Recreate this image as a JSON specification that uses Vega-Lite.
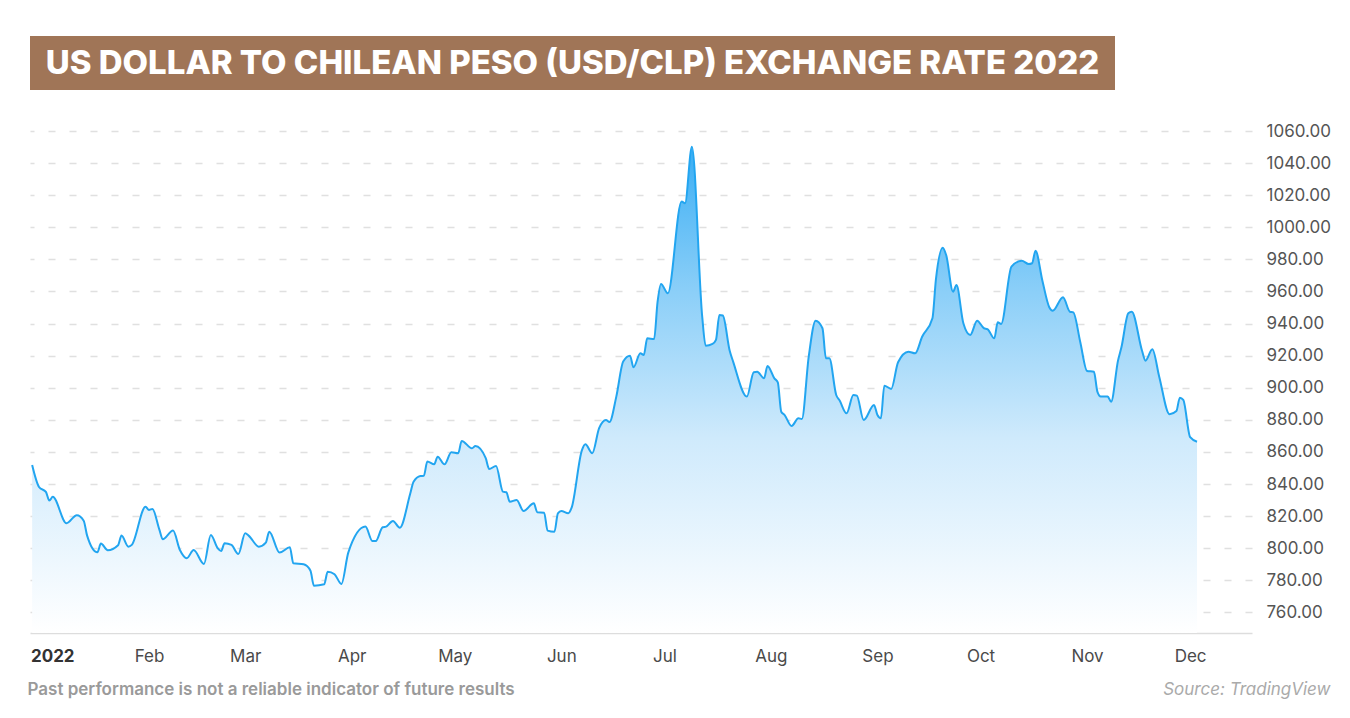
{
"$schema": "https://vega.github.io/schema/vega-lite/v6.json",
"background": "white",
"padding": {"left": 27, "top": 36, "right": 10, "bottom": 5},
"spacing": 32,
"config": {"font": "Inter", "view": {"stroke": null}},
"vconcat": [
{
"width": 1085, "height": 54,
"view": {"fill": "#a07557", "stroke": null},
"data": {"values": [{"title": "US DOLLAR TO CHILEAN PESO (USD/CLP) EXCHANGE RATE 2022"}]},
"mark": {"type": "text", "color": "white", "font": "Inter", "fontWeight": 800, "fontSize": 33, "align": "center", "baseline": "middle", "dy": 1},
"encoding": {"text": {"field": "title"}}
},
{
"width": 1222, "height": 502,
"data": {"values": [
{"date":"2021-12-29","rate":851.9},{"date":"2021-12-31","rate":838.2},{"date":"2022-01-02","rate":835.1},{"date":"2022-01-03","rate":829.7},{"date":"2022-01-04","rate":832.1},{"date":"2022-01-08","rate":815.6},{"date":"2022-01-11","rate":820.6},{"date":"2022-01-13","rate":817.2},{"date":"2022-01-14","rate":807.9},{"date":"2022-01-17","rate":797.5},{"date":"2022-01-18","rate":802.9},{"date":"2022-01-20","rate":798.8},{"date":"2022-01-23","rate":801.9},{"date":"2022-01-24","rate":807.9},{"date":"2022-01-26","rate":801.0},{"date":"2022-01-27","rate":802.1},{"date":"2022-01-31","rate":825.9},
{"date":"2022-02-01","rate":823.9},{"date":"2022-02-02","rate":824.5},{"date":"2022-02-04","rate":811.8},{"date":"2022-02-05","rate":805.6},{"date":"2022-02-08","rate":811.0},{"date":"2022-02-10","rate":798.9},{"date":"2022-02-12","rate":793.8},{"date":"2022-02-14","rate":798.9},{"date":"2022-02-17","rate":790.2},{"date":"2022-02-19","rate":808.3},{"date":"2022-02-21","rate":800.0},{"date":"2022-02-22","rate":798.3},{"date":"2022-02-23","rate":803.1},{"date":"2022-02-25","rate":802.1},{"date":"2022-02-27","rate":796.4},
{"date":"2022-03-01","rate":809.3},{"date":"2022-03-02","rate":807.9},{"date":"2022-03-05","rate":801.0},{"date":"2022-03-07","rate":803.5},{"date":"2022-03-08","rate":810.3},{"date":"2022-03-11","rate":797.3},{"date":"2022-03-14","rate":800.6},{"date":"2022-03-15","rate":790.7},{"date":"2022-03-18","rate":790.0},{"date":"2022-03-20","rate":786.0},{"date":"2022-03-21","rate":776.7},{"date":"2022-03-24","rate":777.6},{"date":"2022-03-25","rate":785.4},{"date":"2022-03-27","rate":783.8},{"date":"2022-03-29","rate":777.8},{"date":"2022-03-31","rate":797.3},
{"date":"2022-04-05","rate":813.5},{"date":"2022-04-07","rate":804.5},{"date":"2022-04-08","rate":804.5},{"date":"2022-04-10","rate":813.1},{"date":"2022-04-11","rate":813.5},{"date":"2022-04-13","rate":817.0},{"date":"2022-04-15","rate":812.8},{"date":"2022-04-18","rate":833.8},{"date":"2022-04-19","rate":841.5},{"date":"2022-04-21","rate":845.0},{"date":"2022-04-22","rate":845.2},{"date":"2022-04-23","rate":854.0},{"date":"2022-04-25","rate":852.3},{"date":"2022-04-26","rate":857.1},{"date":"2022-04-28","rate":852.3},{"date":"2022-04-30","rate":859.8},
{"date":"2022-05-02","rate":859.2},{"date":"2022-05-03","rate":866.9},{"date":"2022-05-06","rate":862.3},{"date":"2022-05-07","rate":863.7},{"date":"2022-05-10","rate":856.1},{"date":"2022-05-11","rate":849.4},{"date":"2022-05-13","rate":851.3},{"date":"2022-05-15","rate":835.3},{"date":"2022-05-16","rate":834.9},{"date":"2022-05-17","rate":829.0},{"date":"2022-05-19","rate":830.1},{"date":"2022-05-21","rate":823.2},{"date":"2022-05-24","rate":828.0},{"date":"2022-05-25","rate":822.4},{"date":"2022-05-27","rate":822.2},{"date":"2022-05-28","rate":811.0},{"date":"2022-05-30","rate":810.3},{"date":"2022-05-31","rate":821.8},
{"date":"2022-06-01","rate":823.2},{"date":"2022-06-03","rate":821.8},{"date":"2022-06-04","rate":825.3},{"date":"2022-06-07","rate":861.2},{"date":"2022-06-08","rate":864.8},{"date":"2022-06-10","rate":859.2},{"date":"2022-06-12","rate":874.8},{"date":"2022-06-14","rate":879.9},{"date":"2022-06-15","rate":878.7},{"date":"2022-06-17","rate":894.5},{"date":"2022-06-19","rate":916.3},{"date":"2022-06-21","rate":920.0},{"date":"2022-06-22","rate":912.8},{"date":"2022-06-24","rate":921.5},{"date":"2022-06-25","rate":920.4},{"date":"2022-06-26","rate":930.8},{"date":"2022-06-28","rate":930.4},{"date":"2022-06-29","rate":953.3},{"date":"2022-06-30","rate":964.7},
{"date":"2022-07-02","rate":958.9},{"date":"2022-07-06","rate":1016.0},{"date":"2022-07-07","rate":1015.0},{"date":"2022-07-09","rate":1050.2},{"date":"2022-07-12","rate":944.3},{"date":"2022-07-13","rate":926.2},{"date":"2022-07-15","rate":927.3},{"date":"2022-07-16","rate":929.8},{"date":"2022-07-17","rate":945.4},{"date":"2022-07-18","rate":945.0},{"date":"2022-07-20","rate":923.1},{"date":"2022-07-21","rate":916.3},{"date":"2022-07-25","rate":894.5},{"date":"2022-07-27","rate":909.7},{"date":"2022-07-28","rate":910.0},{"date":"2022-07-30","rate":905.9},{"date":"2022-07-31","rate":913.6},
{"date":"2022-08-02","rate":905.9},{"date":"2022-08-03","rate":903.4},{"date":"2022-08-04","rate":885.1},{"date":"2022-08-05","rate":883.0},{"date":"2022-08-07","rate":876.2},{"date":"2022-08-09","rate":881.0},{"date":"2022-08-10","rate":880.6},{"date":"2022-08-12","rate":919.4},{"date":"2022-08-14","rate":941.8},{"date":"2022-08-16","rate":937.1},{"date":"2022-08-17","rate":918.4},{"date":"2022-08-18","rate":918.4},{"date":"2022-08-20","rate":895.5},{"date":"2022-08-21","rate":892.0},{"date":"2022-08-23","rate":884.1},{"date":"2022-08-25","rate":895.5},{"date":"2022-08-26","rate":895.1},{"date":"2022-08-28","rate":879.9},{"date":"2022-08-31","rate":889.3},
{"date":"2022-09-01","rate":883.0},{"date":"2022-09-02","rate":881.0},{"date":"2022-09-03","rate":901.3},{"date":"2022-09-05","rate":899.3},{"date":"2022-09-07","rate":915.9},{"date":"2022-09-10","rate":922.5},{"date":"2022-09-12","rate":921.5},{"date":"2022-09-14","rate":931.8},{"date":"2022-09-17","rate":943.3},{"date":"2022-09-18","rate":967.2},{"date":"2022-09-20","rate":987.3},{"date":"2022-09-21","rate":982.7},{"date":"2022-09-23","rate":959.9},{"date":"2022-09-24","rate":964.0},{"date":"2022-09-26","rate":940.2},{"date":"2022-09-28","rate":932.9},{"date":"2022-09-30","rate":941.8},
{"date":"2022-10-02","rate":937.1},{"date":"2022-10-03","rate":936.6},{"date":"2022-10-05","rate":930.8},{"date":"2022-10-06","rate":940.8},{"date":"2022-10-07","rate":939.8},{"date":"2022-10-10","rate":975.5},{"date":"2022-10-13","rate":979.2},{"date":"2022-10-15","rate":977.1},{"date":"2022-10-16","rate":977.6},{"date":"2022-10-17","rate":985.4},{"date":"2022-10-19","rate":966.7},{"date":"2022-10-21","rate":950.2},{"date":"2022-10-22","rate":948.0},{"date":"2022-10-25","rate":956.4},{"date":"2022-10-27","rate":947.4},{"date":"2022-10-28","rate":947.0},{"date":"2022-10-30","rate":928.7},
{"date":"2022-11-01","rate":910.5},{"date":"2022-11-03","rate":910.0},{"date":"2022-11-04","rate":897.6},{"date":"2022-11-05","rate":894.5},{"date":"2022-11-07","rate":894.5},{"date":"2022-11-08","rate":891.3},{"date":"2022-11-10","rate":916.9},{"date":"2022-11-11","rate":925.2},{"date":"2022-11-13","rate":946.4},{"date":"2022-11-14","rate":947.4},{"date":"2022-11-17","rate":923.1},{"date":"2022-11-18","rate":916.9},{"date":"2022-11-20","rate":924.0},{"date":"2022-11-22","rate":906.9},{"date":"2022-11-25","rate":883.5},{"date":"2022-11-27","rate":885.5},{"date":"2022-11-28","rate":893.8},{"date":"2022-11-29","rate":892.4},
{"date":"2022-12-01","rate":869.2},{"date":"2022-12-03","rate":866.4}
]},
"encoding": {
"x": {"field": "date", "type": "temporal",
"scale": {"type": "utc", "domain": [{"year": 2021, "month": 12, "date": 28, "hours": 9, "utc": true}, {"year": 2022, "month": 12, "date": 19, "utc": true}]},
"axis": {
"values": [{"year":2022,"month":1,"date":1,"utc":true},{"year":2022,"month":2,"date":1,"utc":true},{"year":2022,"month":3,"date":1,"utc":true},{"year":2022,"month":4,"date":1,"utc":true},{"year":2022,"month":5,"date":1,"utc":true},{"year":2022,"month":6,"date":1,"utc":true},{"year":2022,"month":7,"date":1,"utc":true},{"year":2022,"month":8,"date":1,"utc":true},{"year":2022,"month":9,"date":1,"utc":true},{"year":2022,"month":10,"date":1,"utc":true},{"year":2022,"month":11,"date":1,"utc":true},{"year":2022,"month":12,"date":1,"utc":true}],
"labelExpr": "utcmonth(datum.value) == 0 ? '2022' : utcFormat(datum.value, '%b')",
"labelFontWeight": {"condition": {"test": "utcmonth(datum.value) == 0", "value": "bold"}, "value": "normal"},
"labelColor": {"condition": {"test": "utcmonth(datum.value) == 0", "value": "#333333"}, "value": "#4a4a4a"},
"labelAlign": {"condition": {"test": "utcmonth(datum.value) == 0", "value": "left"}, "value": "center"},
"labelOffset": {"condition": {"test": "utcmonth(datum.value) == 0", "value": -12}, "value": 0},
"labelFlush": false, "labelOverlap": false,
"labelFontSize": 17, "labelPadding": 15,
"grid": false, "ticks": false,
"domainColor": "#dddddd", "domainWidth": 1.5,
"title": "Past performance is not a reliable indicator of future results",
"titleX": -3, "titleY": 61, "titleAlign": "left", "titleBaseline": "alphabetic",
"titleFontSize": 17, "titleFontWeight": 600, "titleColor": "#9a9a9a"
}},
"y": {"field": "rate", "type": "quantitative",
"scale": {"domain": [747.2, 1060], "zero": false, "nice": false, "clamp": true},
"axis": {
"orient": "right",
"values": [760, 780, 800, 820, 840, 860, 880, 900, 920, 940, 960, 980, 1000, 1020, 1040, 1060],
"format": ".2f",
"grid": true, "gridDash": [7, 14], "gridColor": "#e0e0e0", "gridWidth": 1.3,
"domain": false, "ticks": false,
"labelPadding": 14, "labelFontSize": 17, "labelColor": "#555555",
"title": "Source: TradingView",
"titleAngle": 0, "titleX": 78, "titleY": 563, "titleAlign": "right", "titleBaseline": "alphabetic",
"titleFontStyle": "italic", "titleFontWeight": "normal", "titleFontSize": 17, "titleColor": "#aaaaaa"
}}
},
"layer": [
{"mark": {"type": "area", "interpolate": "monotone",
"color": {"gradient": "linear", "x1": 0, "y1": 0, "x2": 0, "y2": 1,
"stops": [{"offset": 0, "color": "#3aaef4"}, {"offset": 0.3, "color": "#8ccff8"}, {"offset": 0.6, "color": "#cfeafc"}, {"offset": 1, "color": "#ffffff"}]}}},
{"mark": {"type": "line", "interpolate": "monotone", "color": "#22a5f0", "strokeWidth": 2}}
]
}
]
}
